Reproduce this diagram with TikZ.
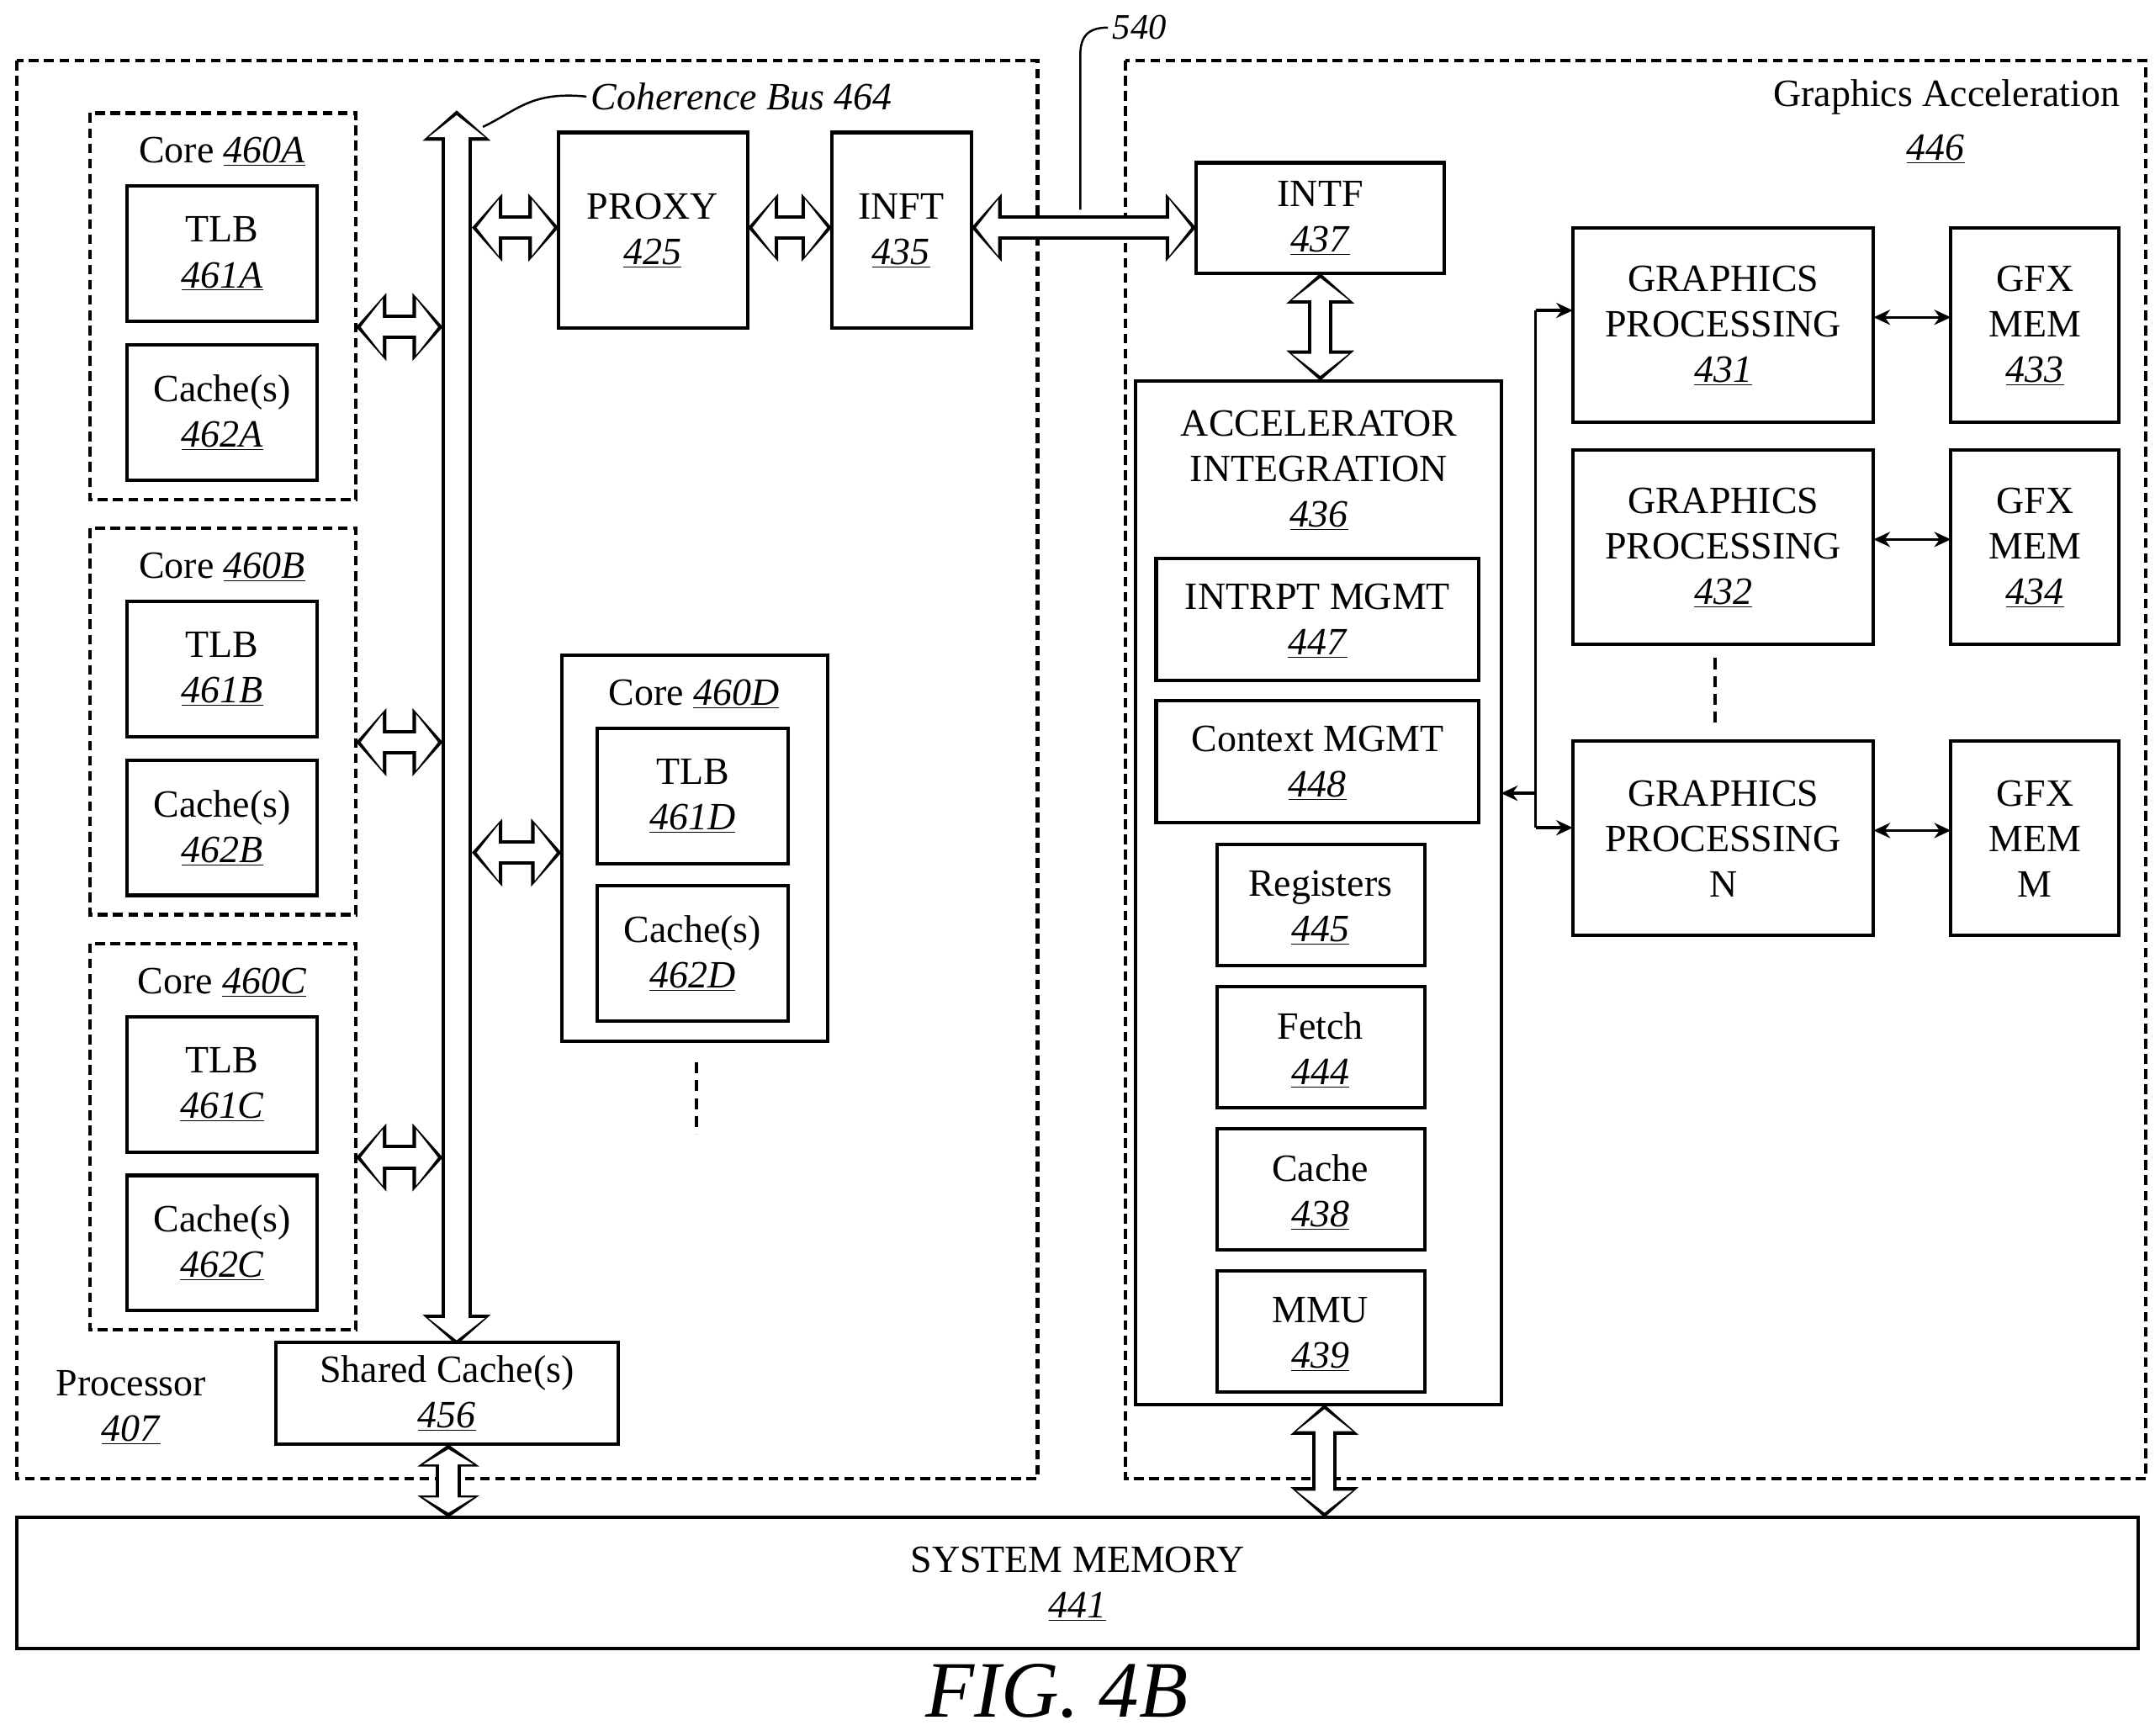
\documentclass[tikz,border=0pt]{standalone}
\usepackage{fontspec}
\setmainfont{Liberation Serif}
\usetikzlibrary{arrows.meta}
\newcommand{\un}[1]{\underline{\textit{#1}}}
\begin{document}
\begin{tikzpicture}[x=1pt,y=-1pt,
 box/.style={draw,line width=2.5pt},
 dbox/.style={draw,line width=2.5pt,dash pattern=on 7pt off 4pt},
 lab/.style={font=\fontsize{28}{33}\selectfont,align=center},
 big/.style={line width=#1, {Triangle[length=22pt,width=48pt]}-{Triangle[length=22pt,width=48pt]},
   postaction={draw=white,line width=#1-5pt,shorten >=3.5pt,shorten <=3.5pt,{Triangle[length=16pt,width=40pt]}-{Triangle[length=16pt,width=40pt]}}},
 bigs/.style={line width=#1, {Triangle[length=16pt,width=44pt]}-{Triangle[length=16pt,width=44pt]},
   postaction={draw=white,line width=#1-5pt,shorten >=3.5pt,shorten <=3.5pt,{Triangle[length=11pt,width=36pt]}-{Triangle[length=11pt,width=36pt]}}},
 sm/.style={line width=2pt,{Stealth[length=12pt,width=11pt]}-{Stealth[length=12pt,width=11pt]}}]
\useasboundingbox (0,0) rectangle (1562,1258);
% outer boxes
\draw[dbox] (12,44) rectangle (752,1072);
\draw[dbox] (816,44) rectangle (1555,1072);
\node[lab] at (95,1020) {Processor\\\un{407}};
\node[lab,anchor=north east] at (1540,54) {Graphics Acceleration};
\node[lab] at (1403,108) {\un{446}};
% cores
\foreach \y/\c in {82/A,383/B,684/C}{
 \draw[dbox] (65,\y) rectangle (258,\y+280);
 \node[lab] at (161,\y+28) {Core \un{460\c}};
 \draw[box] (92,\y+53) rectangle (230,\y+151);
 \node[lab] at (161,\y+102) {TLB\\\un{461\c}};
 \draw[box] (92,\y+168) rectangle (230,\y+266);
 \node[lab] at (161,\y+217) {Cache(s)\\\un{462\c}};
 \coordinate (cr\c) at (258,\y+155);
 \coordinate (cb\c) at (321,\y+155);
}
\draw[box] (407,475) rectangle (600,755);
\node[lab] at (503,503) {Core \un{460D}};
\draw[box] (433,528) rectangle (571,626);
\node[lab] at (502,577) {TLB\\\un{461D}};
\draw[box] (433,642) rectangle (571,740);
\node[lab] at (502,691) {Cache(s)\\\un{462D}};
\draw[line width=2.5pt,dash pattern=on 8pt off 5pt] (505,770) -- (505,822);
% bus
\coordinate (bt) at (331,80); \coordinate (bb) at (331,975);
\draw[big=22pt] (bt) -- (bb);
\node[lab,font=\fontsize{28}{33}\selectfont\itshape,anchor=west] (cbl) at (425,70) {Coherence Bus 464};
\draw[line width=1.5pt] (350,92) .. controls (375,80) and (385,66) .. (cbl.west);
\foreach \c in {A,B,C}{\draw[big=18pt] (cr\c) -- (cb\c);}
% shared cache
\draw[bigs=18pt] (325,1047) -- (325,1100);
\draw[box,fill=white] (200,973) rectangle (448,1047);
\node[lab] at (324,1010) {Shared Cache(s)\\\un{456}};
% proxy, inft
\draw[box] (405,96) rectangle (542,238);
\node[lab] at (473,167) {PROXY\\\un{425}};
\draw[box] (603,96) rectangle (704,238);
\node[lab] at (653,167) {INFT\\\un{435}};
\draw[box] (867,118) rectangle (1047,198);
\node[lab] at (957,158) {INTF\\\un{437}};
\draw[big=18pt] (342,165) -- (405,165);
\draw[big=18pt] (342,618) -- (407,618);
\draw[big=18pt] (542,165) -- (603,165);
\draw[big=18pt] (704,165) -- (867,165);
\node[lab,font=\fontsize{26}{30}\selectfont\itshape,anchor=west] (l540) at (803,20) {540};
\draw[line width=1.5pt] (783,152) -- (783,40) .. controls (783,25) and (790,20) .. (l540.west);
% accelerator
\draw[box] (823,276) rectangle (1088,1018);
\node[lab] at (956,341) {ACCELERATOR\\INTEGRATION\\\un{436}};
\draw[big=18pt] (957,198) -- (957,276);
\draw[box] (838,405) rectangle (1072,493);
\node[lab] at (955,450) {INTRPT MGMT\\\un{447}};
\draw[box] (838,508) rectangle (1072,596);
\node[lab] at (955,553) {Context MGMT\\\un{448}};
\foreach \y/\t/\n in {612/Registers/445,715/Fetch/444,818/Cache/438,921/MMU/439}{
 \draw[box] (882,\y) rectangle (1033,\y+88);
 \node[lab] at (957,\y+46) {\t\\\un{\n}};
}
% system memory
\draw[big=18pt] (960,1018) -- (960,1100);
\draw[box,fill=white] (12,1100) rectangle (1550,1195);
\node[lab] at (781,1148) {SYSTEM MEMORY\\\un{441}};
\node[font=\fontsize{58}{66}\selectfont\itshape] at (766,1226) {FIG. 4B};
% graphics
\foreach \y/\n/\m in {165/\un{431}/\un{433},326/\un{432}/\un{434},537/N/M}{
 \draw[box] (1140,\y) rectangle (1358,\y+141);
 \node[lab] at (1249,\y+71) {GRAPHICS\\PROCESSING\\\n};
 \draw[box] (1414,\y) rectangle (1536,\y+141);
 \node[lab] at (1475,\y+71) {GFX\\MEM\\\m};
 \draw[sm] (1358,\y+65) -- (1414,\y+65);
}
\draw[line width=2.5pt,dash pattern=on 8pt off 5pt] (1243,477) -- (1243,527);
\draw[line width=2pt] (1113,225) -- (1113,600);
\draw[line width=2pt,-{Stealth[length=12pt,width=11pt]}] (1113,225) -- (1140,225);
\draw[line width=2pt,-{Stealth[length=12pt,width=11pt]}] (1113,600) -- (1140,600);
\draw[line width=2pt,-{Stealth[length=12pt,width=11pt]}] (1113,575) -- (1088,575);
\end{tikzpicture}
\end{document}
